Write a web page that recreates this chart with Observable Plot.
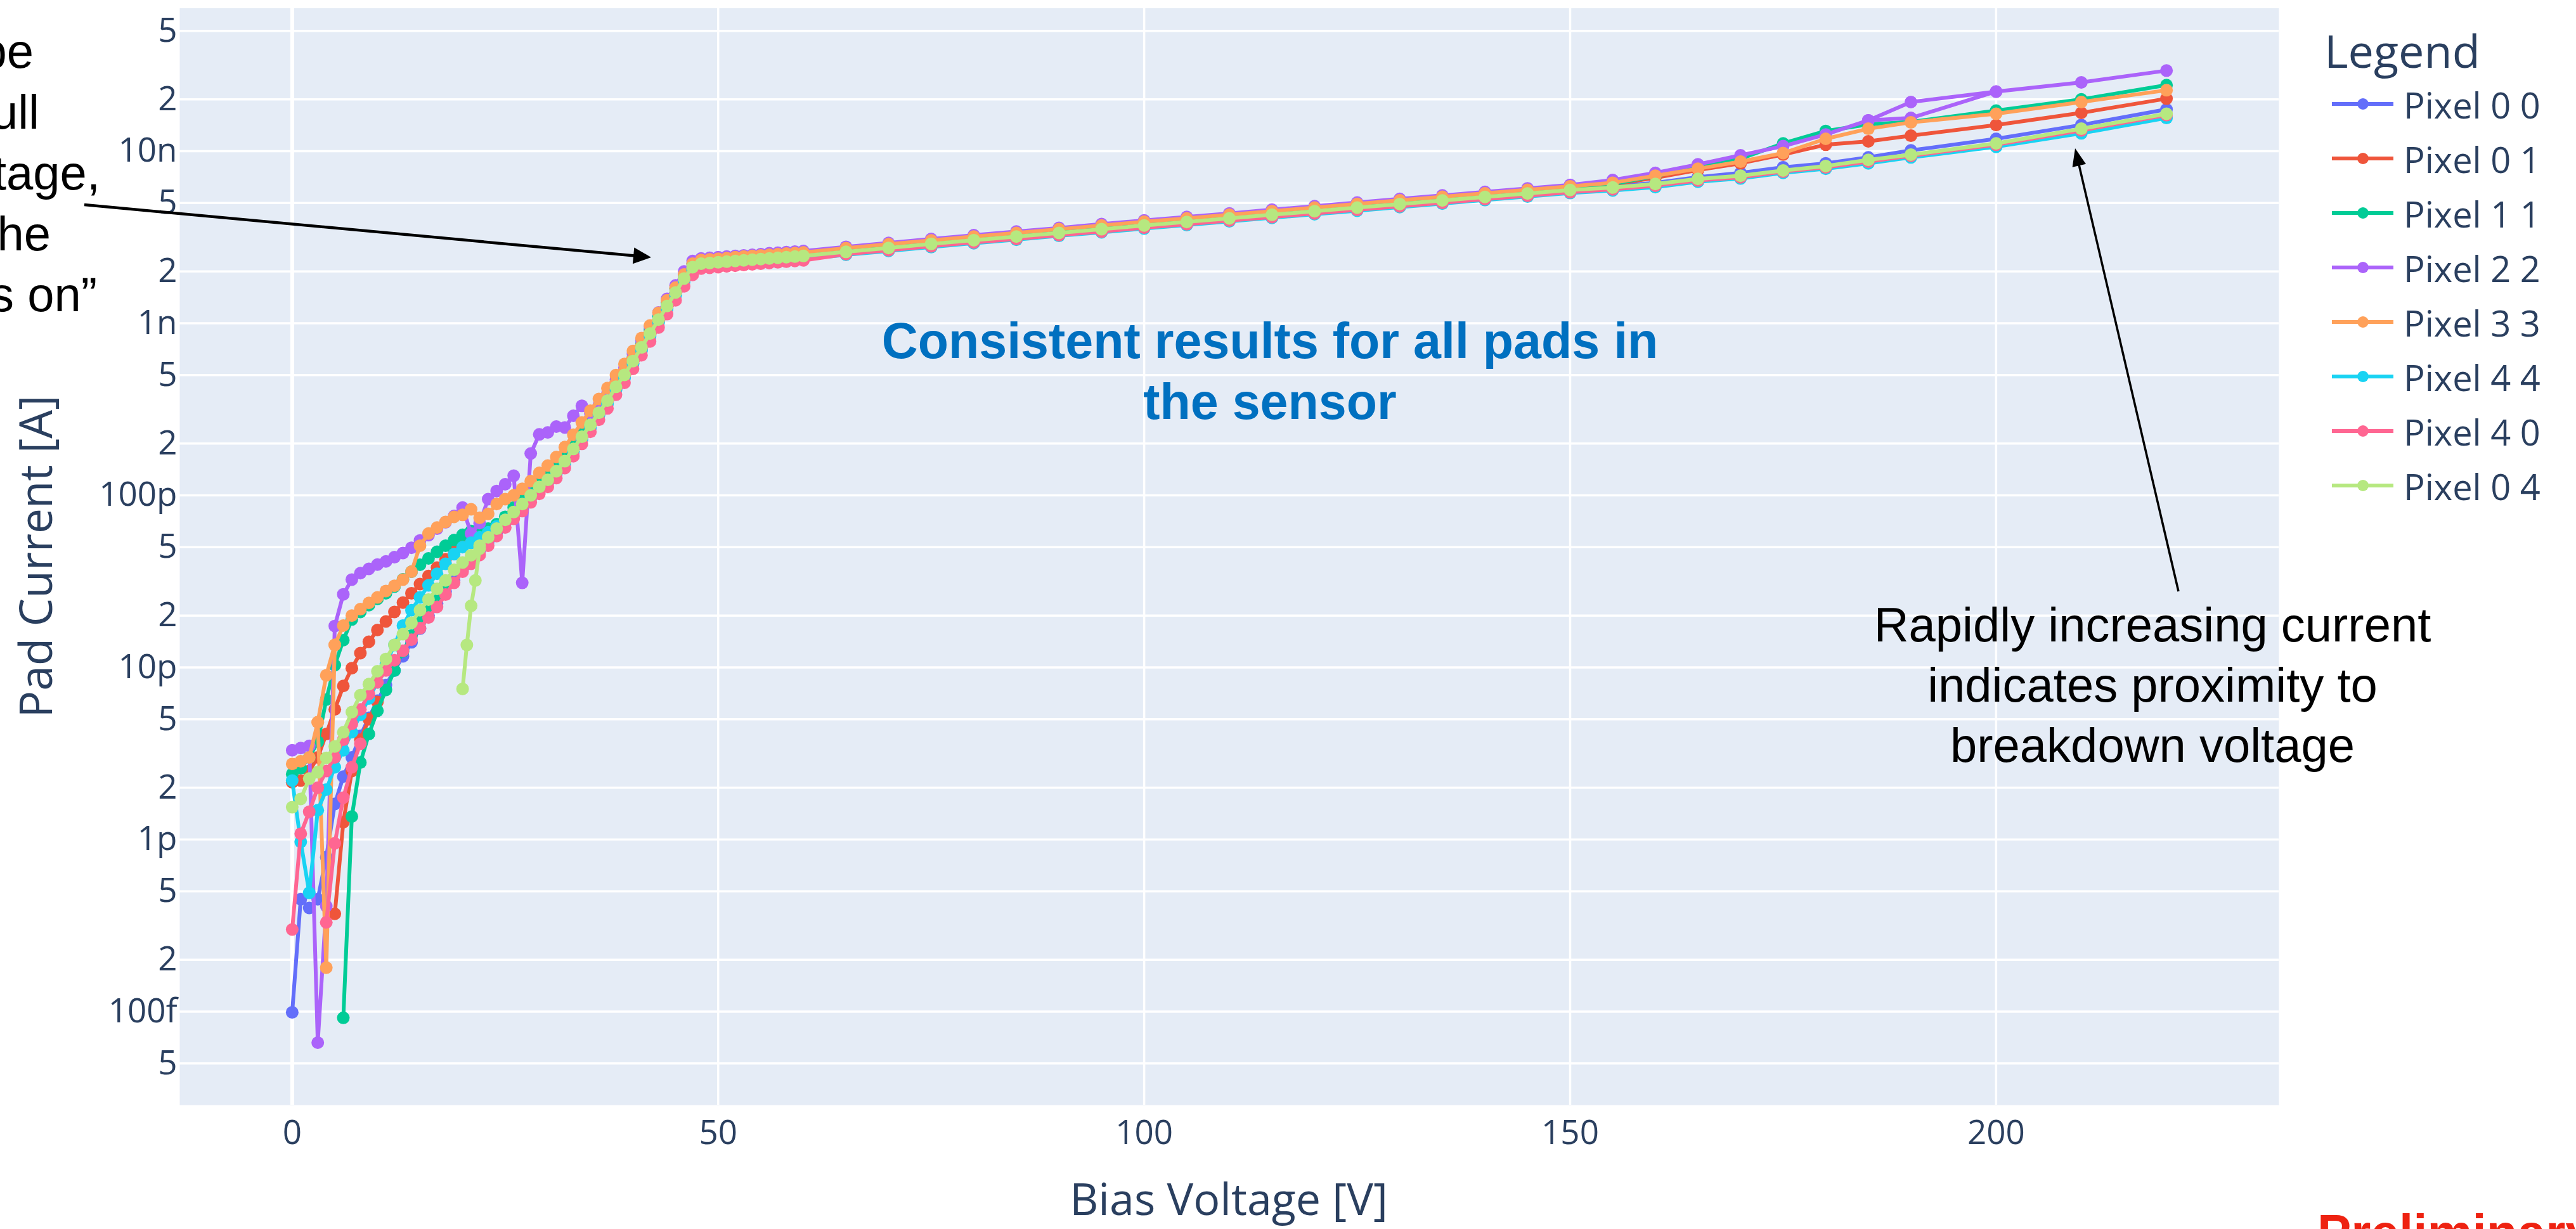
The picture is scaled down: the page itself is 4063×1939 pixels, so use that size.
<!DOCTYPE html>
<html>
<head>
<meta charset="utf-8">
<script src="https://cdn.jsdelivr.net/npm/d3@7"></script>
<script src="https://cdn.jsdelivr.net/npm/@observablehq/plot@0.6"></script>
<style>
  html, body { margin: 0; padding: 0; background: #ffffff; }
  #page { position: relative; width: 4063px; height: 1939px; overflow: hidden; background: #ffffff; }
  #page > svg { position: absolute; left: 0; top: 0; }
</style>
</head>
<body>
<div id="page"></div>
<script>
// Bias sweep: 1 V steps up to 60 V, 5 V steps to 190 V, then 10 V steps.
const VOLTAGE = [
  0, 1, 2, 3, 4, 5, 6, 7, 8, 9, 10, 11, 12, 13, 14, 15, 16, 17, 18, 19,
  20, 21, 22, 23, 24, 25, 26, 27, 28, 29, 30, 31, 32, 33, 34, 35, 36, 37, 38, 39,
  40, 41, 42, 43, 44, 45, 46, 47, 48, 49, 50, 51, 52, 53, 54, 55, 56, 57, 58, 59, 60,
  65, 70, 75, 80, 85, 90, 95, 100, 105, 110, 115, 120, 125, 130, 135, 140, 145, 150,
  155, 160, 165, 170, 175, 180, 185, 190, 200, 210, 220
];

// Pad currents in pA, one value per entry of VOLTAGE.
const PIXEL_00 = [
  0.099, 0.45, 0.40, 0.45, 0.79, 1.61, 2.32, 3.0, 4.0, 5.1, 6.4, 7.9, 9.6, 11.6, 14, 16.8, 20, 23.5, 27.5, 32, 37, 42, 48, 54, 61, 69,
  78, 86, 97, 109, 119, 134, 153, 180, 212, 249, 293, 344, 414, 486, 585, 702, 845, 1020, 1220, 1460, 1770, 2060,
  2210, 2230, 2250, 2270, 2290, 2310, 2330, 2350, 2370, 2390, 2410, 2430, 2450,
  2600, 2740, 2890, 3040, 3190, 3350, 3520, 3700, 3880, 4070, 4270, 4480, 4700, 4930, 5170, 5420, 5680, 5950,
  6250, 6550, 7060, 7480, 8060, 8500, 9200, 10100, 11800, 14200, 17500
];
const PIXEL_01 = [
  2.15, 2.2, 2.5, 3.0, 4.1, 5.7, 7.8, 9.9, 12.1, 14.1, 16.5, 18.5, 21, 23.8, 27, 30.5, 34, 38, 42.5, 47.5, 53, 55, 58, 62, 67, 73,
  80, 89, 100, 112, 123, 138, 158, 186, 219, 257, 302, 355, 427, 501, 603, 724, 871, 1050, 1260, 1500, 1800, 2090,
  2200, 2220, 2240, 2260, 2280, 2300, 2320, 2340, 2360, 2380, 2400, 2420, 2440,
  2680, 2820, 2980, 3130, 3290, 3450, 3630, 3810, 4000, 4190, 4400, 4610, 4840, 5080, 5330, 5580, 5850, 6130,
  6420, 7000, 7760, 8500, 9560, 10900, 11400, 12300, 14200, 16700, 20200
];
const PIXEL_11 = [
  2.4, 2.6, 3.0, 3.7, 6.5, 10.3, 14.4, 19, 21, 23, 25, 27, 29.5, 32.5, 36, 39.5, 43, 47, 51, 55, 59, 62, 63, 64, 68, 75,
  85, 94, 106, 119, 130, 146, 167, 197, 232, 272, 320, 373, 448, 526, 633, 760, 915, 1100, 1320, 1590, 1910, 2220,
  2310, 2330, 2350, 2370, 2390, 2410, 2430, 2450, 2480, 2500, 2520, 2540, 2560,
  2700, 2850, 3010, 3160, 3320, 3480, 3660, 3850, 4040, 4230, 4440, 4660, 4890, 5130, 5380, 5640, 5910, 6190,
  6450, 7170, 8060, 9030, 11100, 13100, 14300, 14800, 17200, 20000, 24200
];
const PIXEL_22 = [
  3.3, 3.4, 3.5, 0.066, 0.41, 17.4, 26.6, 32.4, 35.3, 37.4, 39.6, 41.3, 43.7, 46.2, 49.6, 54.7, 58.7, 64, 69.7, 75.9, 84.9, 60, 69, 95, 106, 116,
  130, 31, 175, 226, 232, 251, 248, 290, 331, 300, 335, 390, 470, 551, 663, 796, 958, 1155, 1386, 1660, 2000, 2300,
  2380, 2400, 2420, 2440, 2460, 2480, 2500, 2520, 2550, 2570, 2590, 2610, 2630,
  2780, 2930, 3090, 3250, 3410, 3580, 3770, 3960, 4150, 4350, 4570, 4790, 5030, 5280, 5530, 5800, 6080, 6370,
  6800, 7480, 8380, 9460, 10700, 12500, 15100, 19300, 22200, 25100, 29400
];
const PIXEL_33 = [
  2.75, 2.85, 3.0, 4.8, 9.0, 13.5, 17.5, 20, 21.8, 23.7, 25.5, 27.8, 29.8, 32.4, 36, 51, 60, 65, 70, 75, 77, 83, 74, 78, 89, 95,
  100, 109, 121, 135, 149, 167, 191, 225, 265, 310, 363, 420, 500, 580, 690, 820, 970, 1150, 1360, 1610, 1920, 2220,
  2330, 2350, 2370, 2390, 2420, 2440, 2460, 2480, 2500, 2520, 2540, 2560, 2580,
  2730, 2880, 3030, 3190, 3350, 3520, 3700, 3890, 4070, 4270, 4480, 4700, 4940, 5180, 5430, 5690, 5960, 6250,
  6550, 7200, 7910, 8690, 9750, 11800, 13500, 14700, 16500, 19300, 22600
];
const PIXEL_44 = [
  2.2, 0.97, 0.49, 1.48, 1.95, 2.63, 3.3, 4.2, 5.3, 6.6, 8.2, 10.5, 13.5, 17.5, 21.5, 25.5, 30, 35, 40, 45.5, 50, 53, 57, 61, 66, 72,
  78, 86, 97, 109, 119, 134, 153, 180, 212, 249, 293, 341, 410, 481, 579, 695, 836, 1010, 1210, 1450, 1750, 2040,
  2130, 2150, 2170, 2190, 2210, 2230, 2250, 2270, 2280, 2300, 2320, 2340, 2360,
  2500, 2630, 2770, 2920, 3060, 3220, 3380, 3550, 3720, 3910, 4100, 4300, 4510, 4730, 4960, 5200, 5450, 5710,
  5910, 6180, 6640, 6940, 7480, 7900, 8500, 9200, 10600, 12700, 15600
];
const PIXEL_40 = [
  0.30, 1.08, 1.45, 2.0, 2.5, 3.0, 3.8, 4.7, 5.7, 7.0, 8.2, 9.6, 11, 12.5, 14.5, 16.9, 19.5, 22.5, 26.5, 31, 36, 40, 45, 51, 58, 65,
  73, 81, 91, 102, 112, 126, 144, 169, 199, 234, 275, 320, 384, 451, 543, 652, 784, 945, 1130, 1360, 1640, 1910,
  2080, 2100, 2120, 2140, 2160, 2180, 2200, 2220, 2240, 2260, 2280, 2300, 2320,
  2520, 2660, 2800, 2950, 3090, 3250, 3410, 3590, 3760, 3950, 4140, 4350, 4560, 4780, 5010, 5260, 5510, 5770,
  6000, 6300, 6750, 7050, 7600, 8050, 8700, 9400, 10900, 13200, 16200
];
const PIXEL_04 = [
  1.54, 1.72, 2.26, 2.46, 2.98, 3.47, 4.2, 5.5, 6.9, 8.0, 9.5, 11.2, 13.5, 15.6, 18.2, 21.5, 24.8, 28.6, 32, 36.9, 40.7, 44.9, 51, 57, 64, 72,
  80, 89, 100, 112, 123, 138, 158, 186, 219, 257, 302, 355, 427, 501, 603, 724, 871, 1050, 1260, 1510, 1820, 2120,
  2220, 2240, 2260, 2280, 2300, 2320, 2340, 2360, 2380, 2400, 2420, 2440, 2460,
  2600, 2740, 2890, 3040, 3190, 3350, 3520, 3700, 3880, 4070, 4270, 4480, 4700, 4930, 5170, 5420, 5680, 5950,
  6150, 6450, 6900, 7200, 7720, 8200, 8900, 9550, 11100, 13500, 16500
];

// Repeated short sweeps recorded for some pads (voltage in V, current in pA).
const RESTART_01_V = [5, 6, 7, 8, 9, 10];
const RESTART_01_I = [0.37, 1.26, 2.5, 3.8, 5.0, 6.3];
const RESTART_11_V = [6, 7, 8, 9, 10, 11, 12, 13, 14, 15, 16, 17, 18];
const RESTART_11_I = [0.092, 1.36, 2.8, 4.1, 5.6, 7.4, 9.6, 12.4, 15.3, 18.4, 22, 26, 30.5];
const RESTART_22_V = [185, 190, 200];
const RESTART_22_I = [15100, 15600, 22200];
const RESTART_33_V = [3, 4, 5];
const RESTART_33_I = [4.8, 0.18, 13.5];
const RESTART_40_V = [4, 5, 6, 7, 8];
const RESTART_40_I = [0.33, 0.95, 1.75, 2.63, 3.6];
const RESTART_04_V = [20, 20.5, 21, 21.5, 22];
const RESTART_04_I = [7.5, 13.5, 22.8, 32, 49];

const PIXEL_NAMES = ["Pixel 0 0", "Pixel 0 1", "Pixel 1 1", "Pixel 2 2", "Pixel 3 3", "Pixel 4 4", "Pixel 4 0", "Pixel 0 4"];
const PIXEL_COLORS = ["#636EFA", "#EF553B", "#00CC96", "#AB63FA", "#FFA15A", "#19D3F3", "#FF6692", "#B6E880"];
const PIXEL_CURRENTS = [PIXEL_00, PIXEL_01, PIXEL_11, PIXEL_22, PIXEL_33, PIXEL_44, PIXEL_40, PIXEL_04];
const PIXEL_RESTARTS = [
  [],
  [[RESTART_01_V, RESTART_01_I]],
  [[RESTART_11_V, RESTART_11_I]],
  [[RESTART_22_V, RESTART_22_I]],
  [[RESTART_33_V, RESTART_33_I]],
  [],
  [[RESTART_40_V, RESTART_40_I]],
  [[RESTART_04_V, RESTART_04_I]]
];

const Y_TICKS = [5e-8, 2e-8, 1e-8, 5e-9, 2e-9, 1e-9, 5e-10, 2e-10, 1e-10, 5e-11, 2e-11, 1e-11,
                 5e-12, 2e-12, 1e-12, 5e-13, 2e-13, 1e-13, 5e-14];
const Y_TICK_LABELS = ["5", "2", "10n", "5", "2", "1n", "5", "2", "100p", "5", "2", "10p",
                       "5", "2", "1p", "5", "2", "100f", "5"];
const X_TICKS = [0, 50, 100, 150, 200];

const PA = 1e-12;
const INK = "#2a3f5f";
const LINE_WIDTH = 6;
const DOT_RADIUS = 10;

// Build one row per measurement; each sweep gets its own line id.
function sweepRows(name, volts, amps, sweep) {
  return volts.map((v, i) => ({pixel: name, sweep: name + "#" + sweep, voltage: v, current: amps[i] * PA}));
}

const seriesMarks = PIXEL_NAMES.flatMap((name, k) => {
  const rows = [
    ...sweepRows(name, VOLTAGE, PIXEL_CURRENTS[k], 0),
    ...PIXEL_RESTARTS[k].flatMap(([v, a], j) => sweepRows(name, v, a, j + 1))
  ];
  const color = PIXEL_COLORS[k];
  return [
    Plot.line(rows, {x: "voltage", y: "current", z: "sweep", stroke: color, strokeWidth: LINE_WIDTH,
                     strokeLinejoin: "round", strokeLinecap: "round"}),
    Plot.dot(rows, {x: "voltage", y: "current", r: DOT_RADIUS, fill: color, stroke: "none"})
  ];
});

const chart = Plot.plot({
  width: 4063,
  height: 1939,
  marginLeft: 283,
  marginRight: 469,
  marginTop: 12.5,
  marginBottom: 196,
  style: {background: "transparent", fontFamily: "'Open Sans', sans-serif", fontSize: "53px", color: INK},
  x: {domain: [-13.2, 233.2]},
  y: {type: "log", domain: [2.862e-14, 6.77e-8]},
  marks: [
    Plot.frame({fill: "#E5ECF6", stroke: "none"}),
    Plot.gridY(Y_TICKS, {stroke: "#ffffff", strokeOpacity: 1, strokeWidth: 3.5}),
    Plot.gridX(X_TICKS.filter(d => d !== 0), {stroke: "#ffffff", strokeOpacity: 1, strokeWidth: 3.5}),
    Plot.ruleX([0], {stroke: "#ffffff", strokeWidth: 6}),
    Plot.axisY(Y_TICKS, {
      tickSize: 0, tickPadding: 4, label: null, color: INK, fontSize: 53,
      tickFormat: d => Y_TICK_LABELS[Y_TICKS.indexOf(d)]
    }),
    Plot.axisX(X_TICKS, {tickSize: 0, tickPadding: 24, label: null, color: INK, fontSize: 53, tickFormat: d => String(d)}),
    ...seriesMarks
  ]
});

const page = document.getElementById("page");
page.appendChild(chart);

// Titles, legend and notes drawn on a layer above the chart.
const W = 4063, H = 1939;
const svg = d3.create("svg").attr("width", W).attr("height", H).attr("viewBox", `0 0 ${W} ${H}`);

// Axis titles
svg.append("text")
  .attr("transform", "translate(82,878) rotate(-90)")
  .attr("text-anchor", "middle")
  .attr("font-family", "'Open Sans', sans-serif").attr("font-size", 71).attr("fill", INK)
  .text("Pad Current [A]");
svg.append("text")
  .attr("x", 1938).attr("y", 1917)
  .attr("text-anchor", "middle")
  .attr("font-family", "'Open Sans', sans-serif").attr("font-size", 70).attr("fill", INK)
  .text("Bias Voltage [V]");

// Legend
const legend = svg.append("g").attr("font-family", "'Open Sans', sans-serif").attr("fill", INK);
legend.append("text").attr("x", 3666).attr("y", 107).attr("font-size", 72).text("Legend");
PIXEL_NAMES.forEach((name, i) => {
  const cy = 164 + i * 86;
  legend.append("line").attr("x1", 3678).attr("x2", 3775).attr("y1", cy).attr("y2", cy)
    .attr("stroke", PIXEL_COLORS[i]).attr("stroke-width", 6);
  legend.append("circle").attr("cx", 3727).attr("cy", cy).attr("r", 9).attr("fill", PIXEL_COLORS[i]);
  legend.append("text").attr("x", 3791).attr("y", cy + 23).attr("font-size", 56).text(name);
});

// Notes
const NOTE_FONT = "'Liberation Sans', Arial, Helvetica, sans-serif";
function noteLines(lines, x, y0, step, size, anchor, fill, weight) {
  lines.forEach((t, i) => {
    svg.append("text")
      .attr("x", Array.isArray(x) ? x[i] : x).attr("y", y0 + i * step)
      .attr("text-anchor", anchor)
      .attr("font-family", NOTE_FONT).attr("font-size", size)
      .attr("font-weight", weight).attr("fill", fill)
      .text(t);
  });
}
noteLines(["Knee should be", "at the full", "depletion voltage,", "where the", "gain layer \u201cturns on\u201d"],
          [53, 62, 158, 80, 153], 107, 96, 76, "end", "#000000", 400);
noteLines(["Consistent results for all pads in", "the sensor"], 2003, 565, 96, 79, "middle", "#0070C0", 700);
noteLines(["Rapidly increasing current", "indicates proximity to", "breakdown voltage"],
          3395, 1012, 95, 76, "middle", "#000000", 400);
noteLines(["Preliminary"], 3655, 1972, 0, 80, "start", "#EE2211", 700);

function arrow(x1, y1, x2, y2, width, headLength, headWidth) {
  const dx = x2 - x1, dy = y2 - y1, len = Math.hypot(dx, dy);
  const ux = dx / len, uy = dy / len;
  const bx = x2 - ux * headLength, by = y2 - uy * headLength;
  svg.append("line")
    .attr("x1", x1).attr("y1", y1).attr("x2", bx + ux * 2).attr("y2", by + uy * 2)
    .attr("stroke", "#000000").attr("stroke-width", width);
  svg.append("polygon")
    .attr("points", [[x2, y2], [bx - uy * headWidth / 2, by + ux * headWidth / 2], [bx + uy * headWidth / 2, by - ux * headWidth / 2]]
      .map(p => p.join(",")).join(" "))
    .attr("fill", "#000000");
}
arrow(133, 323, 1027, 406, 4.5, 28, 26);
arrow(3436, 933, 3273, 234, 3.5, 28, 22);

page.appendChild(svg.node());
</script>
</body>
</html>
